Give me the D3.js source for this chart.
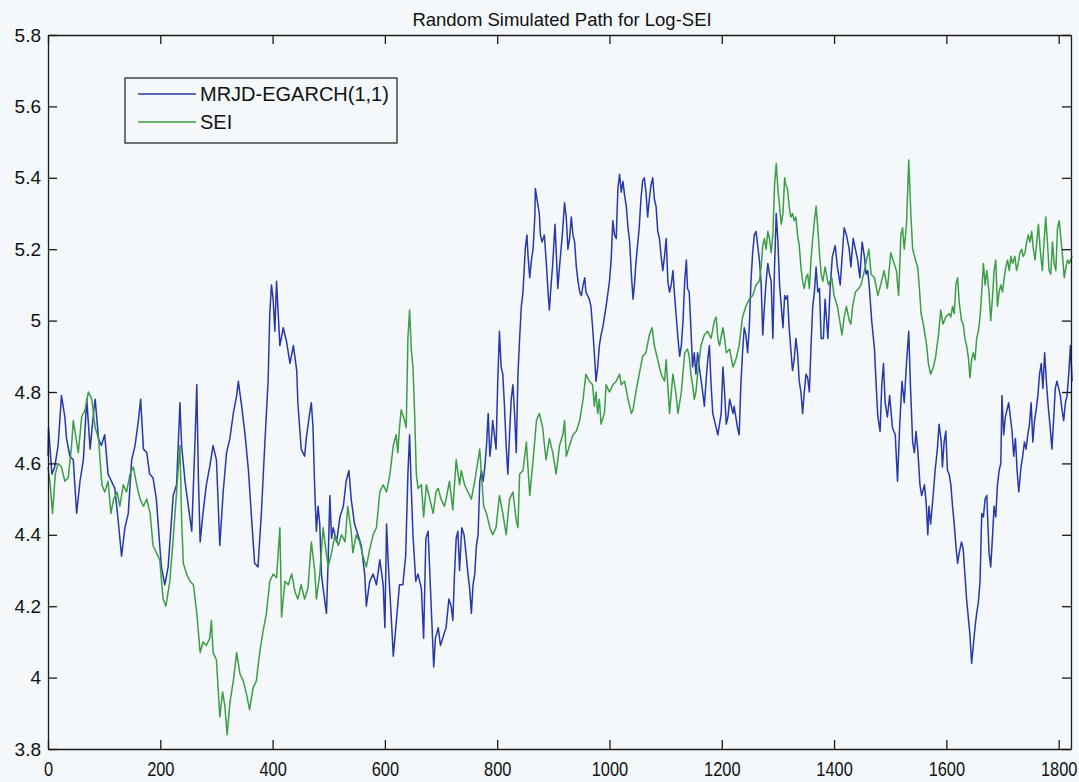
<!DOCTYPE html>
<html>
<head>
<meta charset="utf-8">
<script src="https://cdn.jsdelivr.net/npm/d3@7/dist/d3.min.js"></script>
<style>
  html, body { margin: 0; padding: 0; background: #f4f8fb; }
  #chart svg { display: block; font-family: "Liberation Sans", Arial, sans-serif; }
</style>
</head>
<body>
<div id="chart"></div>
<script>
// Simulated MRJD-EGARCH(1,1) path (blue)
const mrjdX = [0, 1, 7, 12, 18, 24, 30, 33, 39, 45, 51, 57, 63, 69, 75, 81, 84, 90, 95, 101, 107, 113, 119, 125, 131, 137, 143, 149, 155, 161, 165, 170, 176, 181, 187, 193, 199, 202, 208, 214,
  223, 229, 235, 238, 244, 250, 256, 262, 265, 268, 271, 276, 282, 288, 294, 300, 306, 312, 318, 324, 330, 336, 339, 345, 351, 357, 362, 368, 374, 380, 386, 392, 395, 398, 401, 404, 407, 413, 419, 425, 431, 437, 443, 445,
  451, 457, 460, 466, 469, 472, 475, 478, 481, 484, 487, 490, 496, 499, 502, 505, 508, 514, 520, 526, 531, 536, 540, 546, 552, 558, 564, 567, 573, 579, 585, 591, 597, 600, 603, 606, 612, 615, 620, 626, 632, 637, 641, 644, 647, 650, 655, 659, 665, 669, 673, 677,
  683, 687, 690, 695, 699, 703, 709, 714, 718, 721, 724, 727, 730, 733, 737, 741, 745, 748, 751, 754, 757, 760, 763, 766, 769, 772, 775, 778, 781, 784, 787, 789, 792, 795, 798, 801, 804, 807, 810, 813, 816, 819, 822, 825, 828, 831, 834, 837, 840, 843, 846,
  850, 853, 855, 858, 861, 864, 867, 868, 872, 875, 877, 880, 884, 888, 891, 893, 896, 899, 903, 905, 908, 911, 916, 920, 923, 926,
  929, 932, 935, 938, 941, 944, 947, 950, 953, 956, 958, 961, 964, 967, 970, 973, 976, 979, 982, 985, 988, 994, 1000, 1003, 1006, 1009, 1012, 1015, 1018, 1021, 1024, 1027, 1030, 1033, 1036, 1039, 1042, 1045, 1047, 1053, 1056, 1059, 1062, 1065, 1068, 1071, 1074, 1077, 1080, 1083, 1086, 1089, 1092, 1095, 1098, 1101, 1104, 1107, 1110, 1113, 1116, 1119, 1122, 1125, 1128, 1131, 1134, 1137, 1139,
  1142, 1145, 1148, 1151, 1154, 1157, 1160, 1166, 1169, 1172, 1175, 1178, 1181, 1184, 1187, 1190, 1193, 1196, 1199, 1202, 1205, 1208, 1211, 1214, 1217, 1220, 1222, 1225, 1228, 1231, 1234, 1237, 1240, 1243, 1246, 1249, 1252, 1255, 1258, 1261, 1264, 1267, 1270, 1273, 1276, 1279, 1282, 1285, 1288, 1291, 1294, 1297, 1300, 1303, 1306, 1309, 1312, 1314, 1317, 1320, 1323, 1326, 1329, 1332, 1335, 1338, 1341, 1344, 1347, 1350, 1353, 1356, 1359, 1362, 1365, 1368, 1371,
  1374, 1377, 1381, 1384, 1389, 1393, 1397, 1402, 1406, 1411, 1414, 1418, 1422, 1427, 1430, 1434, 1438, 1442, 1446, 1450, 1454, 1457, 1460, 1463, 1467, 1472, 1475, 1478, 1482, 1485, 1488, 1491, 1495, 1499, 1504, 1509, 1513, 1517, 1521, 1525, 1529, 1533, 1536, 1540, 1543, 1546, 1549, 1553, 1556, 1561, 1564, 1567, 1569, 1572, 1577, 1580, 1584, 1587, 1591, 1593, 1596, 1599, 1602,
  1605, 1608, 1611, 1614, 1617, 1620, 1623, 1627, 1630, 1633, 1636, 1639, 1642, 1645, 1648, 1651, 1654, 1657, 1660, 1663, 1666, 1669, 1672, 1676, 1679, 1682, 1685, 1688, 1691, 1694, 1697, 1699, 1702, 1705, 1708, 1711, 1714, 1717, 1720, 1723, 1726, 1729, 1733, 1736, 1739, 1742, 1745, 1748, 1751, 1754, 1757, 1760, 1763, 1766, 1769, 1772, 1775, 1779, 1782, 1785, 1788, 1791, 1794, 1797, 1800, 1803, 1806, 1809, 1812, 1815, 1818, 1821, 1824];
const mrjdY = [4.62, 4.70, 4.57, 4.59, 4.65, 4.79, 4.73, 4.67, 4.62, 4.61, 4.46, 4.55, 4.61, 4.78, 4.64, 4.74, 4.78, 4.67, 4.65, 4.68, 4.57, 4.55, 4.53, 4.44, 4.34, 4.42, 4.46, 4.61, 4.65, 4.72, 4.78, 4.64, 4.63, 4.57, 4.56, 4.50, 4.37, 4.31, 4.26, 4.31,
  4.51, 4.54, 4.77, 4.65, 4.55, 4.48, 4.41, 4.67, 4.82, 4.55, 4.38, 4.46, 4.54, 4.59, 4.65, 4.61, 4.37, 4.52, 4.63, 4.67, 4.74, 4.79, 4.83, 4.76, 4.68, 4.58, 4.46, 4.32, 4.31, 4.46, 4.65, 4.83, 5.02, 5.10, 5.06, 4.97, 5.11, 4.93, 4.98, 4.94, 4.88, 4.93, 4.86, 4.77,
  4.64, 4.62, 4.67, 4.74, 4.77, 4.70, 4.53, 4.41, 4.48, 4.43, 4.29, 4.25, 4.18, 4.33, 4.51, 4.39, 4.42, 4.38, 4.45, 4.48, 4.55, 4.58, 4.50, 4.43, 4.40, 4.37, 4.29, 4.20, 4.27, 4.29, 4.26, 4.33, 4.26, 4.14, 4.43, 4.32, 4.15, 4.06, 4.15, 4.26, 4.26, 4.34, 4.57, 4.68, 4.53, 4.40, 4.27, 4.29, 4.25, 4.11, 4.39, 4.41,
  4.18, 4.03, 4.11, 4.14, 4.09, 4.11, 4.14, 4.22, 4.20, 4.16, 4.29, 4.39, 4.41, 4.30, 4.42, 4.40, 4.34, 4.29, 4.25, 4.18, 4.26, 4.29, 4.37, 4.40, 4.55, 4.58, 4.55, 4.59, 4.65, 4.74, 4.62, 4.65, 4.72, 4.68, 4.64, 4.83, 4.97, 4.87, 4.85, 4.76, 4.65, 4.57, 4.68, 4.78, 4.82, 4.74, 4.63, 4.85, 4.95, 5.04, 5.08,
  5.20, 5.24, 5.18, 5.12, 5.17, 5.20, 5.29, 5.37, 5.33, 5.30, 5.24, 5.22, 5.24, 5.15, 5.07, 5.03, 5.10, 5.16, 5.27, 5.20, 5.09, 5.15, 5.24, 5.33, 5.29, 5.20,
  5.23, 5.29, 5.24, 5.22, 5.15, 5.11, 5.08, 5.07, 5.10, 5.12, 5.08, 5.07, 5.06, 5.04, 4.98, 4.91, 4.83, 4.87, 4.93, 4.96, 4.98, 5.04, 5.11, 5.17, 5.28, 5.24, 5.23, 5.37, 5.41, 5.36, 5.39, 5.35, 5.32, 5.26, 5.22, 5.13, 5.06, 5.11, 5.16, 5.26, 5.34, 5.39, 5.40, 5.36, 5.29, 5.34, 5.38, 5.40, 5.34, 5.32, 5.25, 5.23, 5.18, 5.14, 5.18, 5.23, 5.11, 5.08, 5.10, 5.14, 5.07, 5.01, 4.95, 4.90, 4.93, 5.00, 5.11, 5.17, 5.09,
  5.08, 4.98, 4.87, 4.91, 4.85, 4.91, 4.87, 4.80, 4.76, 4.83, 4.89, 4.93, 4.82, 4.74, 4.72, 4.70, 4.68, 4.71, 4.74, 4.87, 4.80, 4.71, 4.73, 4.78, 4.76, 4.74, 4.76, 4.73, 4.70, 4.68, 4.82, 4.91, 4.98, 4.96, 4.91, 4.98, 5.11, 5.19, 5.24, 5.25, 5.21, 5.17, 5.11, 4.96, 5.04, 5.11, 5.16, 5.13, 5.11, 4.95, 5.15, 5.30, 5.22, 5.10, 5.04, 4.98, 5.07, 5.06, 5.07, 4.98, 4.92, 4.86, 4.89, 4.95, 4.91, 4.83, 4.80, 4.74, 4.80, 4.85, 4.84, 4.80, 4.93, 5.04, 5.08, 5.15, 5.08,
  5.09, 4.95, 4.95, 5.06, 4.95, 5.09, 5.18, 5.21, 5.15, 5.10, 5.17, 5.26, 5.24, 5.20, 5.15, 5.23, 5.20, 5.17, 5.12, 5.22, 5.18, 5.13, 5.14, 5.09, 5.00, 4.92, 4.82, 4.73, 4.69, 4.82, 4.88, 4.77, 4.73, 4.79, 4.70, 4.68, 4.55, 4.71, 4.83, 4.77, 4.88, 4.97, 4.82, 4.66, 4.63, 4.69, 4.64, 4.54, 4.51, 4.54, 4.49, 4.40, 4.48, 4.43, 4.52, 4.58, 4.64, 4.71, 4.66, 4.59, 4.66, 4.69, 4.58,
  4.57, 4.54, 4.48, 4.43, 4.37, 4.32, 4.35, 4.38, 4.36, 4.29, 4.22, 4.17, 4.12, 4.04, 4.09, 4.14, 4.18, 4.21, 4.27, 4.46, 4.45, 4.50, 4.51, 4.35, 4.31, 4.39, 4.48, 4.45, 4.54, 4.58, 4.60, 4.79, 4.68, 4.73, 4.75, 4.77, 4.73, 4.69, 4.62, 4.67, 4.58, 4.52, 4.59, 4.62, 4.66, 4.64, 4.68, 4.71, 4.77, 4.66, 4.72, 4.75, 4.79, 4.85, 4.88, 4.81, 4.91, 4.81, 4.75, 4.70, 4.64, 4.72, 4.81, 4.83, 4.81, 4.79, 4.75, 4.72, 4.77, 4.79, 4.85, 4.93, 4.83];

// Observed SEI path (green)
const seiX = [0, 4, 8, 13, 18, 24, 30, 36, 42, 45, 50, 54, 60, 66, 72, 78, 84, 90, 96, 101, 107, 112, 117, 123, 128, 134, 140, 146, 152, 158, 164, 170, 176, 182, 187, 193, 199, 205, 210,
  217, 223, 229, 235, 238, 241, 247, 253, 259, 265, 271, 276, 282, 288, 291, 294, 300, 306, 311, 315, 319, 324, 330, 336, 342, 348, 354, 359, 365, 371, 377, 383, 389, 395, 401, 407, 413, 416, 422, 428, 434, 440, 445, 451, 457,
  463, 469, 475, 478, 484, 490, 493, 499, 505, 511, 517, 523, 529, 534, 540, 543, 549, 555, 561, 567, 573, 579, 585, 591, 597, 603, 609, 615, 620, 623, 626, 629, 635, 638, 641, 644, 647, 650, 653, 656, 659, 665, 669, 674, 680, 686, 691,
  695, 700, 706, 709, 715, 721, 727, 733, 736, 742, 748, 754, 760, 766, 769, 772, 776, 781, 787, 792, 798, 804, 810, 816, 822, 828, 834, 837, 840, 846, 852, 858, 864, 870, 875, 881, 887, 893, 899, 905,
  911, 917, 920, 923, 929, 935, 941, 947, 953, 958, 964, 970, 973, 976, 979, 982, 985, 991, 994, 1000, 1006, 1012, 1018, 1021, 1027, 1033, 1039, 1042, 1047, 1053, 1059, 1065, 1071, 1076, 1080, 1086, 1092, 1098, 1101, 1107, 1113, 1118, 1122, 1128, 1134, 1139,
  1142, 1145, 1148, 1151, 1154, 1157, 1163, 1169, 1175, 1181, 1187, 1190, 1193, 1196, 1202, 1205, 1208, 1214, 1220, 1225, 1231, 1237, 1243, 1249, 1255, 1261, 1267, 1270, 1273, 1276, 1279, 1282, 1285, 1288, 1291, 1294, 1297, 1300, 1303, 1306, 1309, 1312, 1314, 1317, 1320, 1323, 1326, 1329, 1332, 1335, 1338, 1341, 1344, 1347, 1350, 1353, 1356, 1359, 1362, 1365, 1368, 1371, 1374, 1377, 1380,
  1384, 1390, 1396, 1400, 1406, 1411, 1414, 1418, 1422, 1427, 1430, 1433, 1438, 1444, 1448, 1454, 1458, 1462, 1466, 1472, 1478, 1483, 1489, 1495, 1501, 1507, 1511, 1515, 1519, 1522, 1525, 1529, 1533, 1537, 1540, 1545, 1549, 1552, 1555, 1559, 1562, 1565, 1568, 1572, 1577, 1581, 1586, 1590, 1594, 1599,
  1605, 1608, 1611, 1614, 1617, 1620, 1623, 1627, 1630, 1633, 1636, 1639, 1642, 1645, 1648, 1651, 1654, 1657, 1660, 1663, 1666, 1669, 1672, 1676, 1679, 1682, 1685, 1688, 1691, 1694, 1697, 1700, 1703, 1706, 1709, 1712, 1715, 1718, 1722, 1725, 1728, 1731, 1734, 1737, 1740, 1743, 1746, 1749, 1752, 1755, 1758, 1761, 1764, 1767, 1771, 1774, 1777, 1780, 1783, 1786, 1789, 1792, 1795, 1798, 1801, 1804, 1807, 1810, 1813, 1816, 1819, 1824];
const seiY = [4.59, 4.54, 4.46, 4.57, 4.60, 4.59, 4.55, 4.56, 4.65, 4.72, 4.67, 4.63, 4.73, 4.75, 4.80, 4.78, 4.70, 4.67, 4.54, 4.52, 4.55, 4.46, 4.50, 4.52, 4.48, 4.54, 4.52, 4.57, 4.59, 4.54, 4.50, 4.48, 4.50, 4.46, 4.37, 4.35, 4.33, 4.22, 4.20,
  4.27, 4.39, 4.52, 4.65, 4.44, 4.32, 4.29, 4.27, 4.26, 4.18, 4.07, 4.10, 4.09, 4.11, 4.16, 4.07, 4.05, 3.89, 3.96, 3.92, 3.84, 3.93, 3.99, 4.07, 4.01, 3.99, 3.95, 3.91, 3.97, 3.99, 4.07, 4.13, 4.18, 4.27, 4.29, 4.28, 4.42, 4.17, 4.27, 4.26, 4.29, 4.24, 4.22, 4.26, 4.22,
  4.25, 4.38, 4.30, 4.22, 4.29, 4.42, 4.38, 4.31, 4.35, 4.40, 4.37, 4.40, 4.38, 4.48, 4.41, 4.35, 4.40, 4.38, 4.34, 4.31, 4.36, 4.40, 4.42, 4.52, 4.54, 4.52, 4.57, 4.65, 4.68, 4.63, 4.70, 4.75, 4.72, 4.70, 4.95, 5.03, 4.92, 4.87, 4.74, 4.57, 4.53, 4.54, 4.45, 4.54, 4.50, 4.46, 4.52,
  4.53, 4.50, 4.48, 4.50, 4.55, 4.47, 4.61, 4.54, 4.58, 4.54, 4.52, 4.50, 4.55, 4.61, 4.64, 4.57, 4.48, 4.46, 4.42, 4.40, 4.42, 4.51, 4.46, 4.40, 4.50, 4.52, 4.44, 4.42, 4.57, 4.58, 4.66, 4.51, 4.61, 4.72, 4.74, 4.70, 4.61, 4.67, 4.63, 4.57,
  4.65, 4.68, 4.72, 4.62, 4.65, 4.68, 4.69, 4.72, 4.78, 4.85, 4.83, 4.82, 4.76, 4.80, 4.74, 4.78, 4.71, 4.74, 4.82, 4.80, 4.82, 4.83, 4.85, 4.82, 4.83, 4.78, 4.74, 4.75, 4.80, 4.85, 4.90, 4.91, 4.96, 4.98, 4.93, 4.89, 4.85, 4.83, 4.89, 4.74, 4.85, 4.80, 4.74, 4.80, 4.91, 4.92,
  4.90, 4.85, 4.82, 4.78, 4.80, 4.85, 4.93, 4.96, 4.97, 4.95, 5.00, 5.01, 4.95, 4.93, 4.98, 4.95, 4.91, 4.92, 4.87, 4.89, 4.93, 5.01, 5.04, 5.06, 5.07, 5.10, 5.11, 5.15, 5.21, 5.23, 5.20, 5.25, 5.23, 5.19, 5.24, 5.38, 5.44, 5.37, 5.32, 5.27, 5.30, 5.40, 5.38, 5.37, 5.32, 5.29, 5.30, 5.28, 5.29, 5.24, 5.21, 5.15, 5.11, 5.09, 5.12, 5.13, 5.09, 5.17, 5.23, 5.28, 5.32, 5.26, 5.19, 5.13, 5.11,
  5.15, 5.10, 5.12, 5.07, 5.04, 4.99, 4.96, 5.01, 5.04, 5.00, 4.99, 5.04, 5.08, 5.09, 5.10, 5.14, 5.17, 5.20, 5.13, 5.12, 5.07, 5.10, 5.14, 5.09, 5.19, 5.16, 5.14, 5.07, 5.24, 5.26, 5.20, 5.27, 5.45, 5.29, 5.20, 5.17, 5.15, 5.09, 5.02, 4.99, 4.96, 4.93, 4.88, 4.85, 4.87, 4.90, 4.96, 5.03, 4.99, 5.01,
  5.02, 5.01, 5.04, 5.02, 5.10, 5.12, 5.05, 5.00, 4.99, 4.95, 4.93, 4.90, 4.84, 4.89, 4.91, 4.89, 4.95, 4.97, 5.01, 5.08, 5.16, 5.10, 5.14, 5.08, 5.00, 5.06, 5.14, 5.17, 5.04, 5.08, 5.10, 5.08, 5.12, 5.15, 5.17, 5.14, 5.18, 5.16, 5.18, 5.14, 5.16, 5.19, 5.20, 5.18, 5.19, 5.22, 5.24, 5.22, 5.25, 5.20, 5.17, 5.22, 5.27, 5.20, 5.14, 5.22, 5.29, 5.22, 5.14, 5.13, 5.22, 5.16, 5.14, 5.26, 5.28, 5.23, 5.18, 5.12, 5.15, 5.17, 5.16, 5.18];

const xTicks = [0, 200, 400, 600, 800, 1000, 1200, 1400, 1600, 1800];
const yTicks = [3.8, 4, 4.2, 4.4, 4.6, 4.8, 5, 5.2, 5.4, 5.6, 5.8];
const yTickLabels = ["3.8", "4", "4.2", "4.4", "4.6", "4.8", "5", "5.2", "5.4", "5.6", "5.8"];
const seriesNames = ["MRJD-EGARCH(1,1)", "SEI"];
const seriesColors = ["#2638aa", "#3c9e44"];

const drawChart = () => {
  // Settings
  const width = 1079;
  const height = 782;
  const plot = { left: 48, right: 1071, top: 35, bottom: 749 };
  const tickLen = 9;

  const svg = d3
    .select("#chart")
    .append("svg")
    .attr("width", width)
    .attr("height", height);

  svg.append("rect")
    .attr("width", width)
    .attr("height", height)
    .attr("fill", "#f4f8fb");

  const xScale = d3.scaleLinear().domain([0, 1822]).range([plot.left, plot.right]);
  const yScale = d3.scaleLinear().domain([3.8, 5.8]).range([plot.bottom, plot.top]);

  // Lines
  const series = [
    mrjdX.map((x, i) => ({ x: x, y: mrjdY[i] })),
    seiX.map((x, i) => ({ x: x, y: seiY[i] })),
  ];
  const line = d3.line().x((d) => xScale(d.x)).y((d) => yScale(d.y));

  svg.append("g")
    .selectAll("path")
    .data(series)
    .enter()
    .append("path")
    .attr("d", line)
    .attr("fill", "none")
    .attr("stroke", (d, i) => seriesColors[i])
    .attr("stroke-width", 1.5)
    .attr("stroke-linejoin", "round");

  // Axes, ticks pointing inward (box on)
  const xAxis = d3.axisBottom(xScale)
    .tickValues(xTicks)
    .tickFormat(d3.format("d"))
    .tickSizeInner(-tickLen)
    .tickSizeOuter(0)
    .tickPadding(13);
  const gx = svg.append("g")
    .attr("transform", "translate(0," + plot.bottom + ")")
    .call(xAxis);
  // tick labels in the scan look tall and narrow
  gx.selectAll("text")
    .style("font-size", "20px")
    .attr("fill", "#111")
    .attr("transform", "scale(0.82,1)");

  const yAxis = d3.axisLeft(yScale)
    .tickValues(yTicks)
    .tickFormat((d, i) => yTickLabels[i])
    .tickSizeInner(-tickLen)
    .tickSizeOuter(0)
    .tickPadding(7);
  const gy = svg.append("g")
    .attr("transform", "translate(" + plot.left + ",0)")
    .call(yAxis);
  gy.selectAll("text").style("font-size", "19px").attr("fill", "#111");

  svg.append("g")
    .attr("transform", "translate(0," + plot.top + ")")
    .call(d3.axisTop(xScale).tickValues(xTicks).tickFormat("").tickSizeInner(-tickLen).tickSizeOuter(0));
  svg.append("g")
    .attr("transform", "translate(" + plot.right + ",0)")
    .call(d3.axisRight(yScale).tickValues(yTicks).tickFormat("").tickSizeInner(-tickLen).tickSizeOuter(0));

  svg.selectAll(".domain, .tick line").attr("stroke", "#1a1a1a").attr("stroke-width", 1.3);

  // Title
  svg.append("text")
    .attr("x", 562)
    .attr("y", 26)
    .attr("text-anchor", "middle")
    .style("font-size", "18.5px")
    .attr("fill", "#111")
    .text("Random Simulated Path for Log-SEI");

  // Legend
  const legend = svg.append("g").attr("transform", "translate(125,78)");
  legend.append("rect")
    .attr("width", 272)
    .attr("height", 65)
    .attr("fill", "#f4f8fb")
    .attr("stroke", "#1a1a1a")
    .attr("stroke-width", 1.2);
  seriesNames.forEach((name, i) => {
    const y = 16 + i * 28;
    legend.append("line")
      .attr("x1", 13)
      .attr("x2", 71)
      .attr("y1", y)
      .attr("y2", y)
      .attr("stroke", seriesColors[i])
      .attr("stroke-width", 1.5);
    legend.append("text")
      .attr("x", 75)
      .attr("y", y + 7)
      .style("font-size", "20px")
      .attr("fill", "#111")
      .text(name);
  });
};

drawChart();
</script>
</body>
</html>
